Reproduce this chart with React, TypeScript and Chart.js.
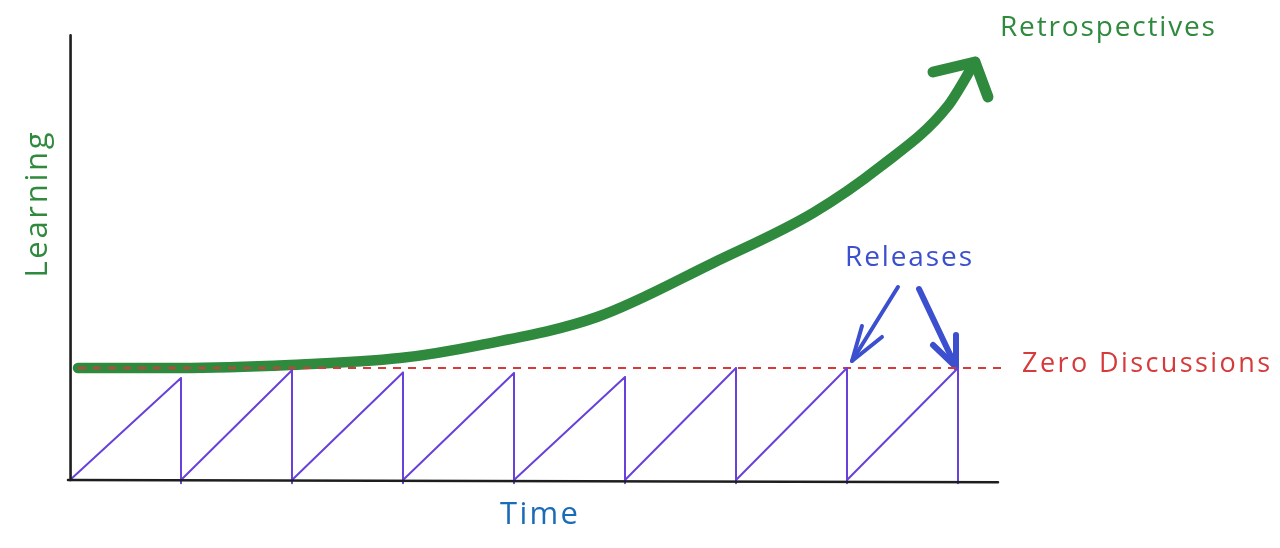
import React, { useEffect, useRef } from "react";
import { Chart, registerables } from "chart.js";

Chart.register(...registerables);

// ---- data (x: time units = release periods, y: learning units; 1 = "zero discussions") ----
const releaseX = [0, 1, 2, 3, 4, 5, 6, 7, 8];
const toothPeaks = [0.91, 0.98, 0.96, 0.955, 0.92, 1.0, 1.0, 1.0];
const toothDrop = -0.03;

const retroX = [0.072, 0.991, 1.982, 2.973, 3.694, 4.748, 5.793, 6.694, 7.297, 7.901, 8.153];
const retroY = [1.0, 1.0, 1.027, 1.089, 1.205, 1.455, 1.938, 2.384, 2.795, 3.33, 3.732];
const retroHeadX = [7.775, 8.153, 8.27];
const retroHeadY = [3.643, 3.732, 3.42];

const zeroLevel = 1;
const zeroStartX = 0.072;
const zeroEndX = 8.4;

const xAxisX = [-0.018, 8.36];
const xAxisY = [0, -0.02];
const yAxisX = [0, 0.005];
const yAxisY = [0, 3.97];

const leftArrowX = [7.459, 7.045];
const leftArrowY = [1.723, 1.0625];
const leftHeadX = [7.135, 7.045, 7.315];
const leftHeadY = [1.375, 1.0625, 1.277];
const rightArrowX = [7.649, 7.982];
const rightArrowY = [1.705, 1.009];
const rightHeadX = [7.775, 7.982, 7.982];
const rightHeadY = [1.205, 1.009, 1.295];

const labelTexts = ["Retrospectives", "Releases", "Zero Discussions", "Time", "Learning"];
const labelX = [8.378, 6.982, 8.577, 3.874, -0.288];
const labelY = [4.036, 1.982, 1.036, -0.3125, 2.455];

const GREEN = "#2f8a3e";
const RED = "#d63a3a";
const VIOLET = "#6741d9";
const BLUE = "#3b4fcf";
const TIME_BLUE = "#1c6bb8";
const BLACK = "#1e1e1e";

function pts(xs: number[], ys: number[]) {
  return xs.map((x, i) => ({ x, y: ys[i] }));
}

function sawtooth() {
  const out: { x: number; y: number }[] = [];
  for (let i = 0; i < releaseX.length - 1; i++) {
    out.push({ x: releaseX[i], y: 0 });
    out.push({ x: releaseX[i + 1], y: toothPeaks[i] });
    out.push({ x: releaseX[i + 1], y: toothDrop });
  }
  return out;
}

const labelStyles = [
  { color: GREEN, size: 28, width: 215, align: "left", rotate: false },
  { color: BLUE, size: 28, width: 127, align: "left", rotate: false },
  { color: RED, size: 27, width: 248, align: "left", rotate: false },
  { color: TIME_BLUE, size: 31, width: 78, align: "left", rotate: false },
  { color: GREEN, size: 31, width: 145, align: "center", rotate: true },
];

const labelPlugin = {
  id: "sketchLabels",
  afterDraw(chart: any) {
    const ctx = chart.ctx;
    const xs = chart.scales.x;
    const ys = chart.scales.y;
    labelTexts.forEach((t, i) => {
      const st = labelStyles[i];
      const px = xs.getPixelForValue(labelX[i]);
      const py = ys.getPixelForValue(labelY[i]);
      ctx.save();
      ctx.font = `${st.size}px "Open Sans", "Noto Sans", sans-serif`;
      ctx.fillStyle = st.color;
      ctx.textBaseline = "middle";
      ctx.textAlign = "left";
      const natural = ctx.measureText(t).width;
      const hasLS = "letterSpacing" in ctx;
      let sx = 1;
      if (hasLS) {
        const sp = Math.max(0, (st.width - natural) / Math.max(1, t.length - 1));
        ctx.letterSpacing = `${sp}px`;
      } else {
        sx = st.width / natural;
      }
      ctx.translate(px, py);
      if (st.rotate) ctx.rotate(-Math.PI / 2);
      ctx.scale(sx, 1);
      const startX = st.align === "center" ? -st.width / 2 / sx : 0;
      ctx.fillText(t, startX, 0);
      ctx.restore();
    });
  },
};

function line(data: any, color: string, width: number, extra: any = {}) {
  return {
    data,
    borderColor: color,
    backgroundColor: color,
    borderWidth: width,
    pointRadius: 0,
    pointHoverRadius: 0,
    fill: false,
    tension: 0,
    clip: false,
    borderCapStyle: "round",
    borderJoinStyle: "round",
    ...extra,
  };
}

export default function App() {
  const ref = useRef<HTMLCanvasElement | null>(null);
  useEffect(() => {
    if (!ref.current) return;
    const chart = new Chart(ref.current, {
      type: "line",
      data: {
        datasets: [
          line(pts(xAxisX, xAxisY), BLACK, 2.6),
          line(pts(yAxisX, yAxisY), BLACK, 2.6),
          line(sawtooth(), VIOLET, 2),
          line(pts([zeroStartX, zeroEndX], [zeroLevel, zeroLevel]), RED, 2.2, { borderDash: [8, 7], borderCapStyle: "butt" }),
          line(pts(retroX, retroY), GREEN, 10.5, { cubicInterpolationMode: "monotone" }),
          line(pts(retroHeadX, retroHeadY), GREEN, 11),
          line(pts(leftArrowX, leftArrowY), BLUE, 4),
          line(pts(leftHeadX, leftHeadY), BLUE, 4),
          line(pts(rightArrowX, rightArrowY), BLUE, 6),
          line(pts(rightHeadX, rightHeadY), BLUE, 6),
        ] as any,
      },
      options: {
        responsive: false,
        animation: false,
        events: [],
        layout: { padding: { left: 70, right: 266.5, top: 32, bottom: 68 } },
        plugins: { legend: { display: false }, tooltip: { enabled: false } },
        scales: {
          x: { type: "linear", min: 0, max: 8.5, display: false },
          y: { type: "linear", min: 0, max: 4, display: false },
        },
      },
      plugins: [labelPlugin],
    });
    return () => chart.destroy();
  }, []);
  return (
    <div style={{ position: "fixed", left: 0, top: 0, width: 1280, height: 548, background: "#fff" }}>
      <canvas ref={ref} width={1280} height={548} style={{ display: "block" }} />
    </div>
  );
}
